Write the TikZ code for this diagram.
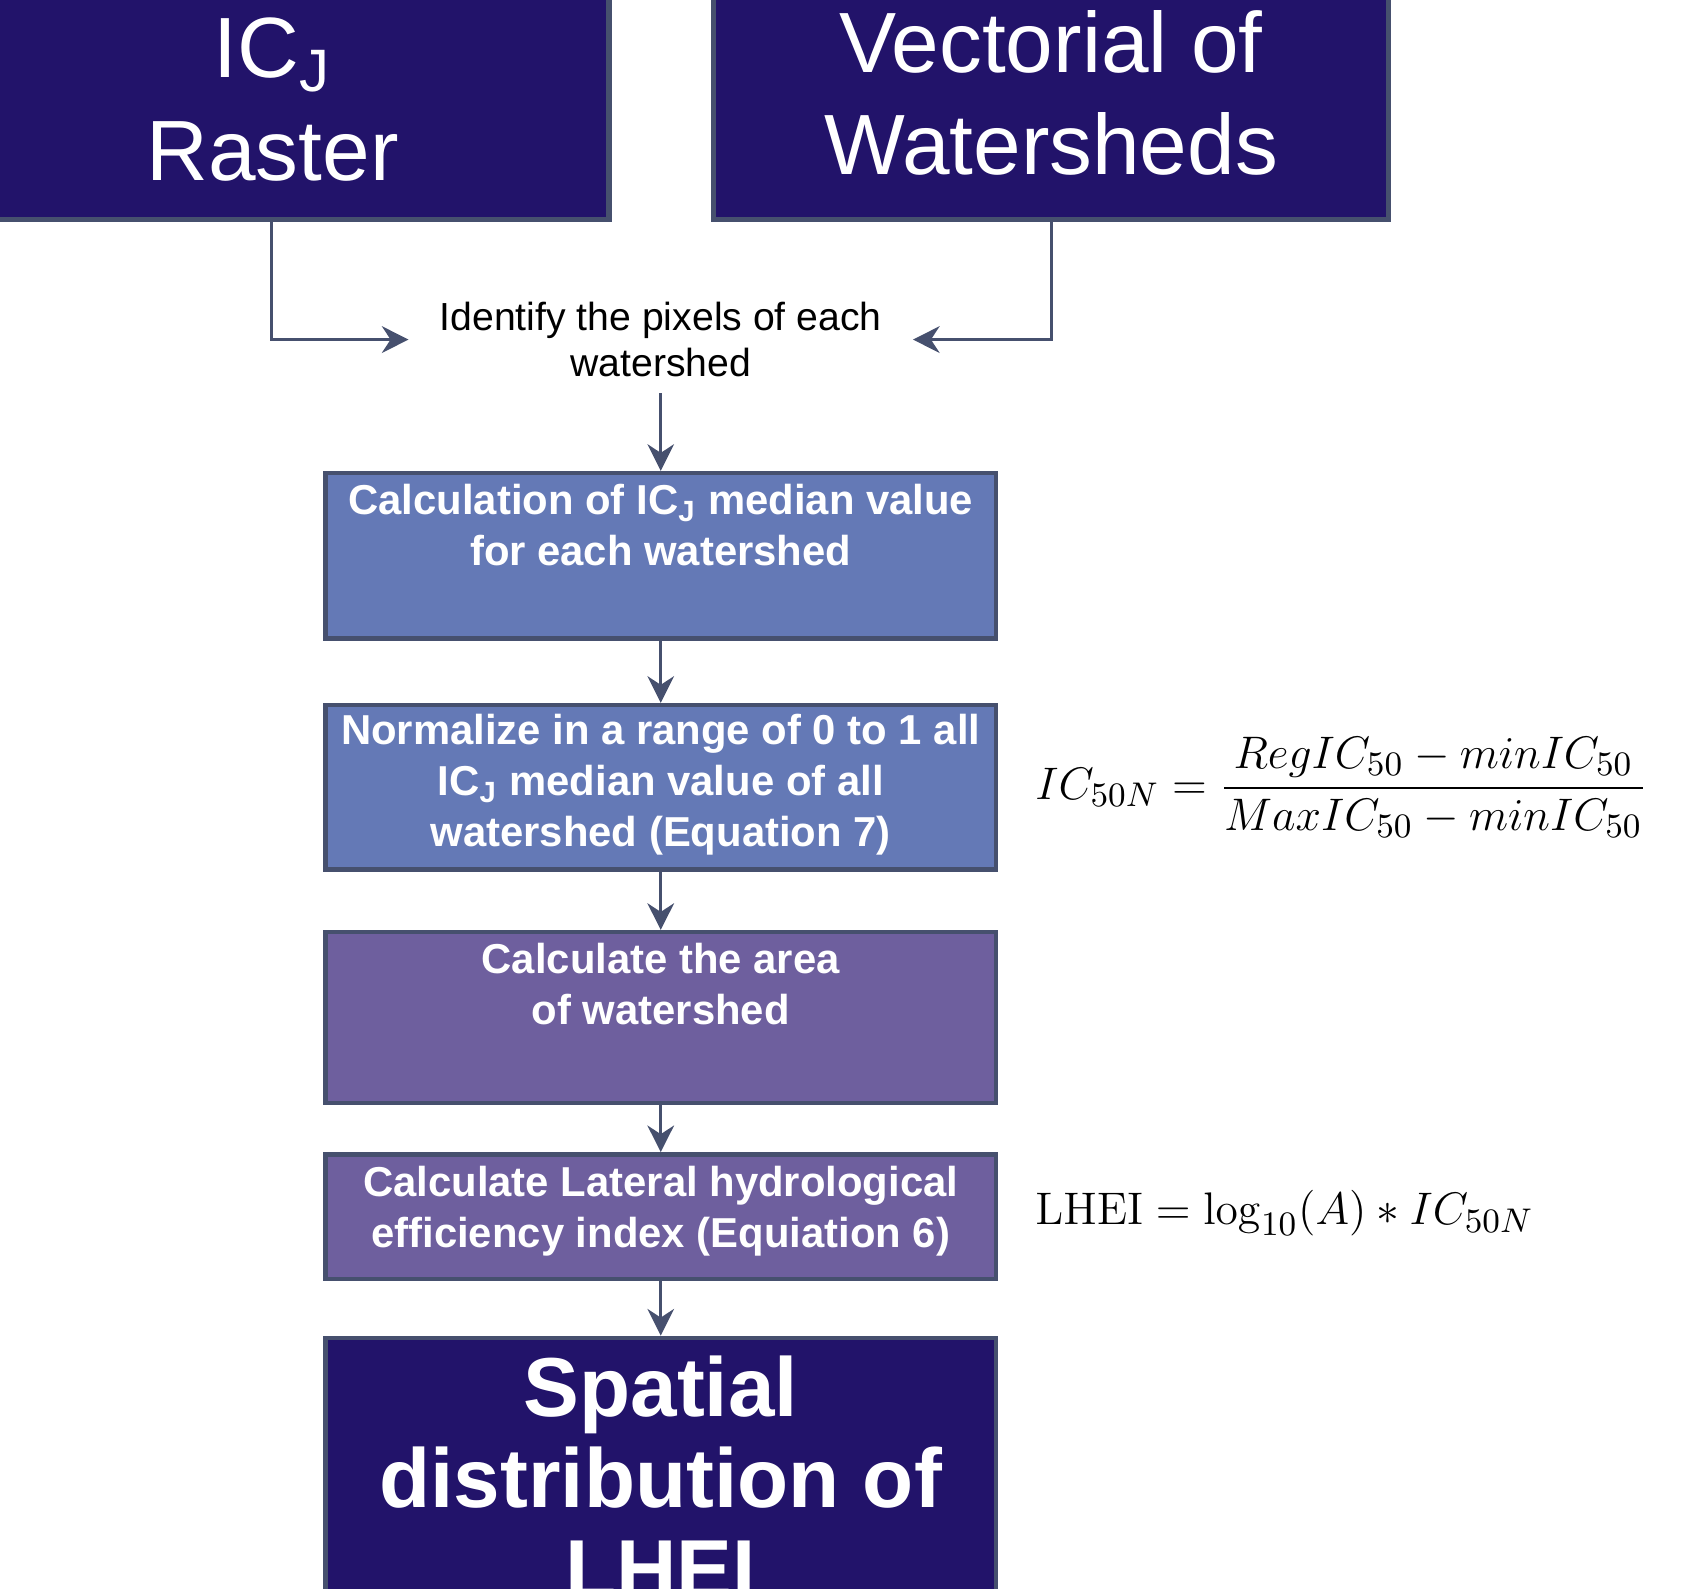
\documentclass[tikz,border=0pt]{standalone}
\usepackage{amsmath}
\usepackage[no-math]{fontspec}
\setmainfont{Liberation Sans}
\usetikzlibrary{arrows.meta,positioning}
\definecolor{navy}{HTML}{22136A}
\definecolor{steel}{HTML}{6479B6}
\definecolor{lilac}{HTML}{6E5F9E}
\definecolor{edge}{HTML}{46506E}
\tikzset{
  box/.style={draw=edge,line width=1.2pt,minimum width=620*0.01cm},
  boxtxt/.style={text=white,font=\fontsize{11}{13.4}\selectfont\bfseries,align=center,inner sep=0pt},
  bigtxt/.style={text=white,font=\fontsize{22.5}{27}\selectfont,align=center,inner sep=0pt},
  flow/.style={draw=edge,line width=0.8pt,-{Stealth[length=7pt,width=7pt]}}
}
\begin{document}
\begin{tikzpicture}[x=0.01cm,y=-0.01cm]
\useasboundingbox (0,0) rectangle (1560,1469);
% inputs
\fill[navy,draw=edge,line width=1.4pt] (-10,-10) rectangle (563,203);
\node[bigtxt] (raster) at (252,92) {IC\textsubscript{J}\\Raster};
\fill[navy,draw=edge,line width=1.4pt] (660,-10) rectangle (1284,203);
\node[bigtxt] (vect) at (972,86) {Vectorial of\\Watersheds};
\coordinate (rs) at (251,203);
\coordinate (vs) at (972,203);
\node[font=\fontsize{10.3}{12.3}\selectfont,align=center,inner sep=0pt] (ident) at (611,314) {Identify the pixels of each\\watershed};
\draw[flow] (rs) |- ([xshift=-8pt]ident.west);
\draw[flow] (vs) |- ([xshift=8pt]ident.east);
% steps
\node[box,fill=steel,minimum height=153*0.01cm] (calc) at (611,514) {};
\node[boxtxt,below=12*0.01cm of calc.north] (calctxt) {Calculation of IC\textsubscript{J} median value\\for each watershed};
\node[box,fill=steel,minimum height=152*0.01cm] (norm) at (611,728) {};
\node[boxtxt] (normtxt) at (611,726) {Normalize in a range of 0 to 1 all\\IC\textsubscript{J} median value of all\\watershed (Equation 7)};
\node[box,fill=lilac,minimum height=158*0.01cm] (area) at (611,941) {};
\node[boxtxt,below=12*0.01cm of area.north] (areatxt) {Calculate the area\\of watershed};
\node[box,fill=lilac,minimum height=115*0.01cm] (lhei) at (611,1125) {};
\node[boxtxt] (lheitxt) at (611,1120) {Calculate Lateral hydrological\\efficiency index (Equiation 6)};
\node[box,fill=navy,minimum height=300*0.01cm,anchor=north] (out) at (611,1235) {};
\node[bigtxt,font=\fontsize{22}{24}\selectfont\bfseries] (outtxt) at (611,1366) {Spatial\\distribution of\\LHEI};
\draw[flow] ([yshift=-4pt]ident.south) -- (calc.north);
\draw[flow] (calc) -- (norm);
\draw[flow] (norm) -- (area);
\draw[flow] (area) -- (lhei);
\draw[flow] (lhei) -- (out);
% equations
\node[font=\fontsize{13}{15}\selectfont,anchor=west] (eqn) at (945,728) {$IC_{50N}=\dfrac{RegIC_{50}-minIC_{50}}{MaxIC_{50}-minIC_{50}}$};
\node[font=\fontsize{13}{15}\selectfont,anchor=west] (eql) at (945,1122) {$\mathrm{LHEI}=\log_{10}(A)*IC_{50N}$};
\end{tikzpicture}
\end{document}
